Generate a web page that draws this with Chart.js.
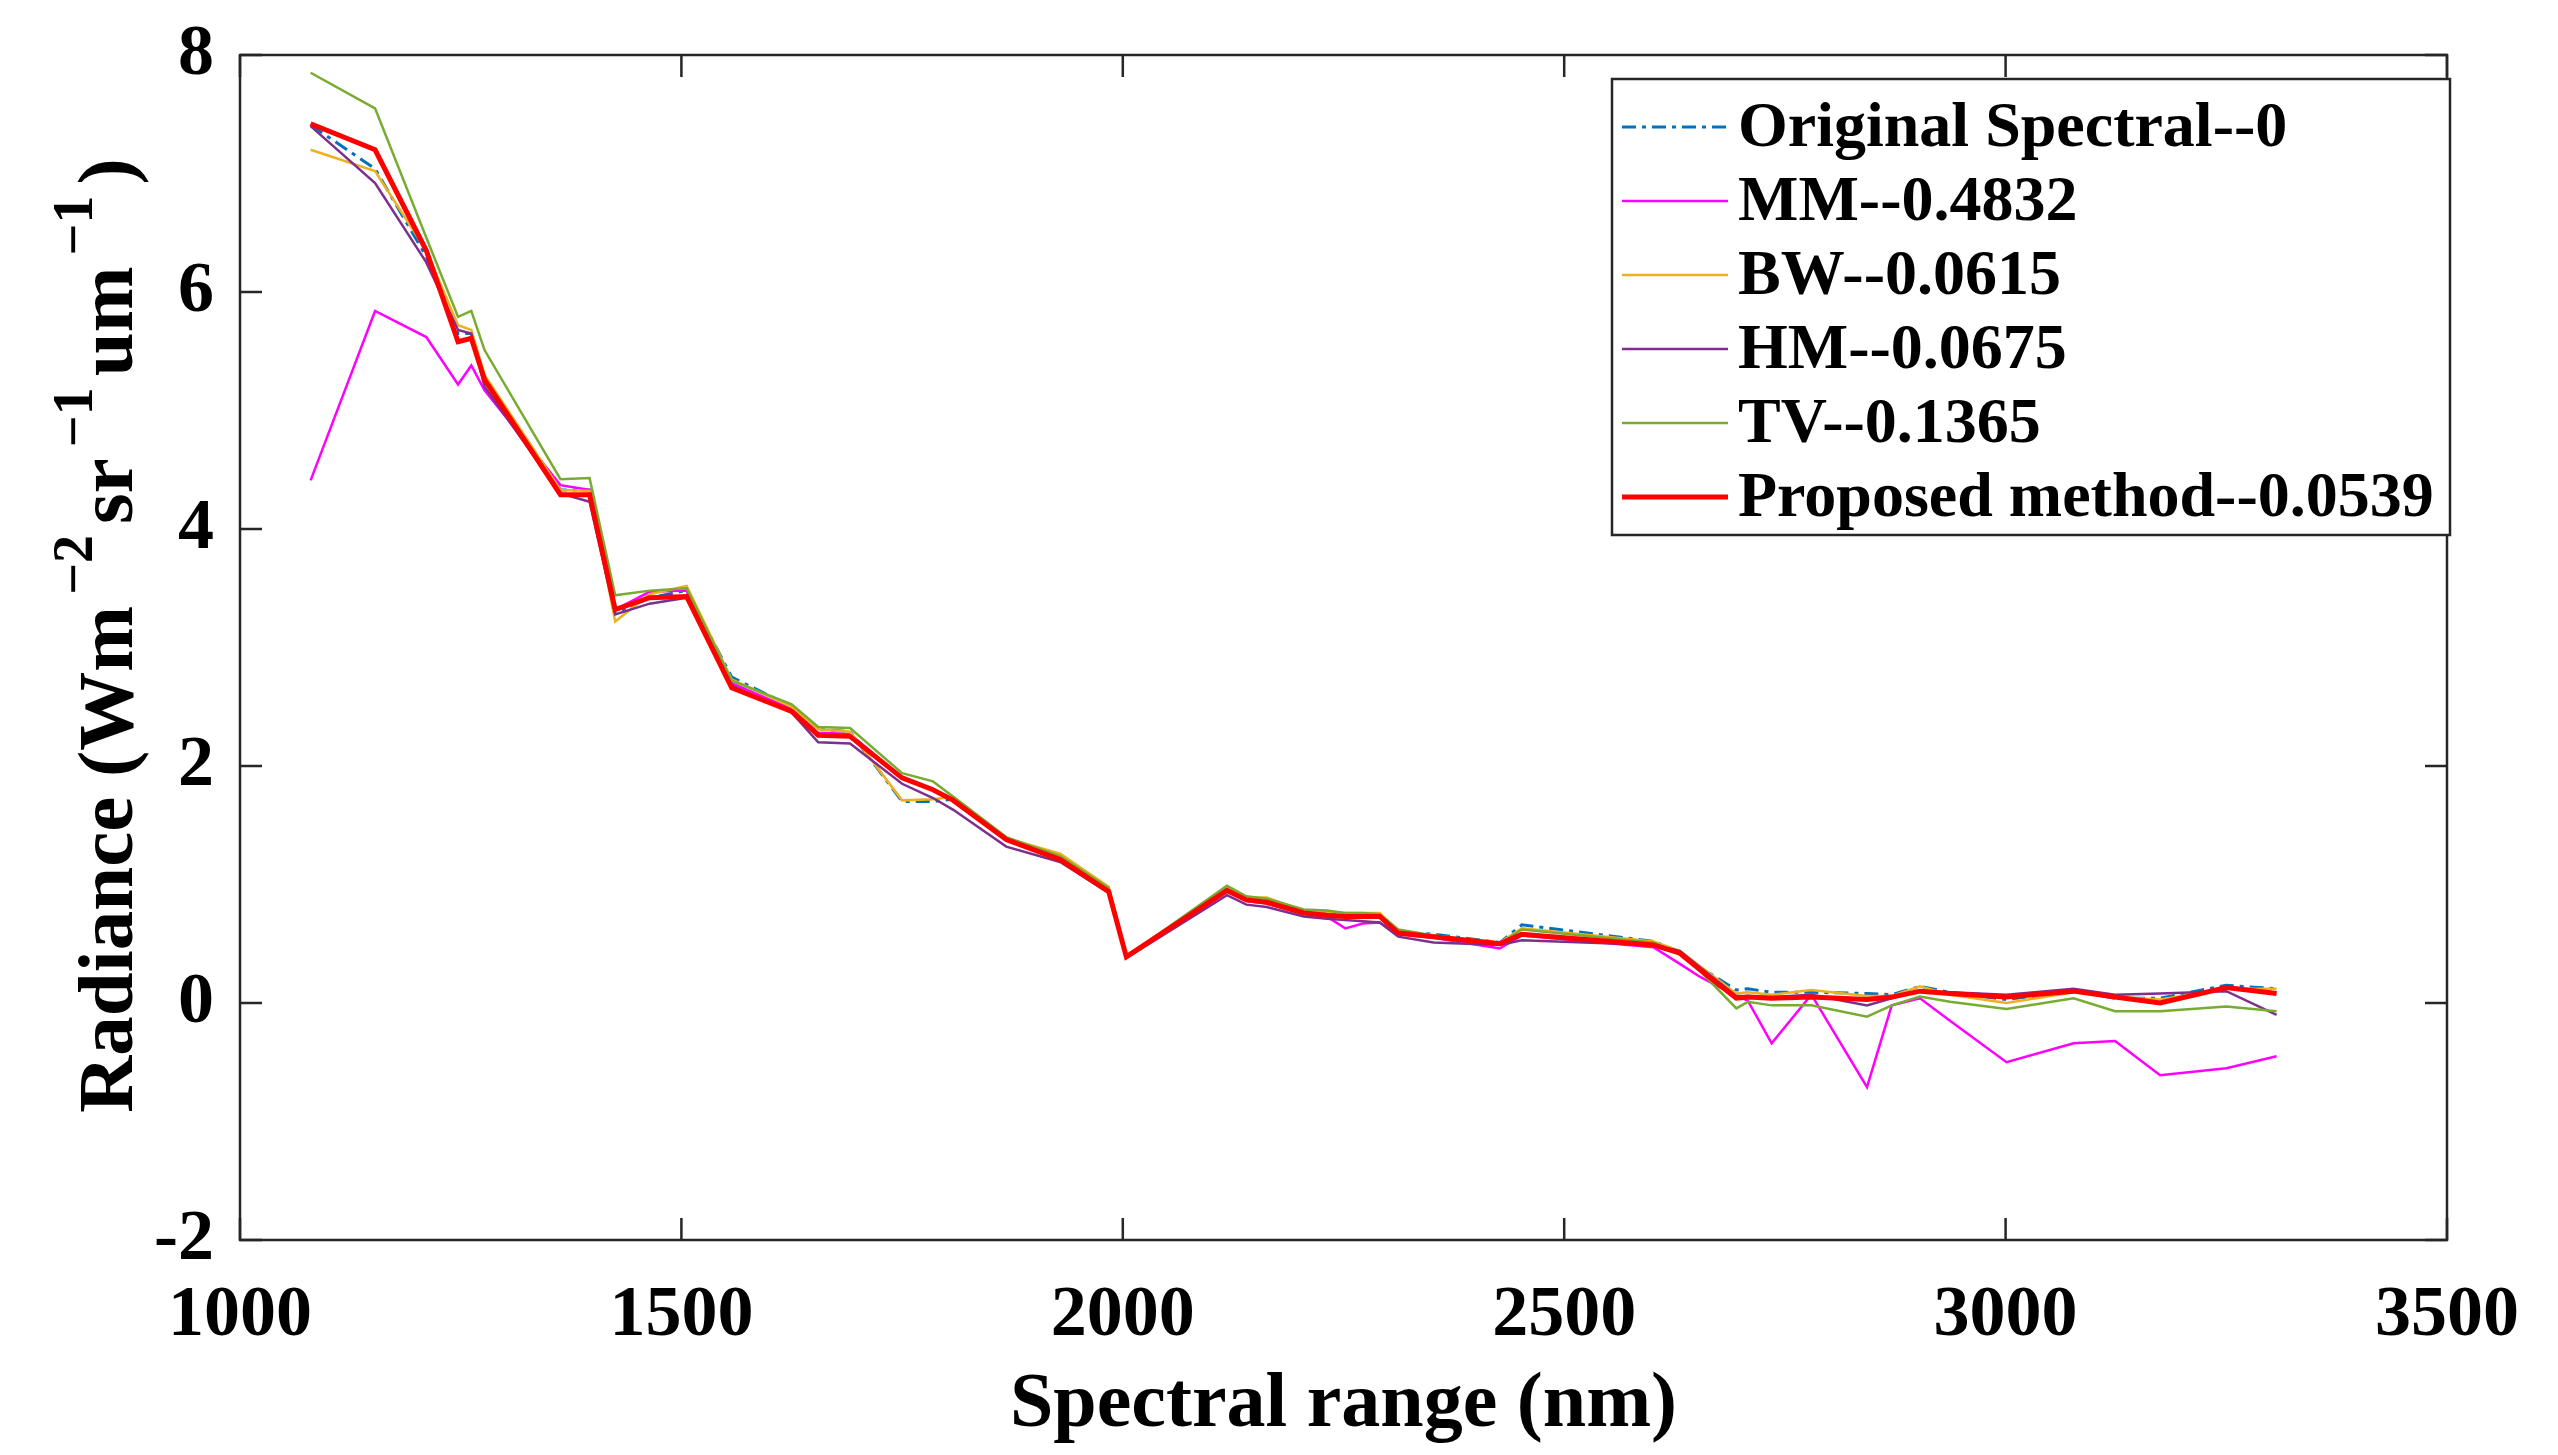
<!DOCTYPE html>
<html>
<head>
<meta charset="utf-8">
<script src="https://cdn.jsdelivr.net/npm/chart.js@4.4.1/dist/chart.umd.min.js"></script>
<style>
  html, body { margin: 0; padding: 0; background: #fff; }
  #wrap { width: 2558px; height: 1455px; position: relative; }
</style>
</head>
<body>
<div id="wrap"><canvas id="specChart"></canvas></div>
<script>
// Datos
const wavelengths = [1080, 1153, 1211, 1247, 1262, 1277, 1363, 1396, 1425, 1464, 1506, 1557, 1625, 1655, 1691,
    1750, 1785, 1808, 1868, 1929, 1984, 2004, 2118, 2140, 2163, 2205, 2231, 2252, 2272, 2291, 2312, 2352,
    2427, 2452, 2601, 2631, 2654, 2695, 2708, 2735, 2780, 2843, 2871, 2903, 2937, 3001, 3077, 3124, 3175, 3250, 3307];

const original = [7.41, 7.04, 6.30, 5.65, 5.65, 5.28, 4.33, 4.33, 3.29, 3.42, 3.48, 2.75, 2.50, 2.31, 2.29,
    1.70, 1.70, 1.72, 1.38, 1.23, 0.96, 0.39, 0.96, 0.88, 0.87, 0.77, 0.76, 0.75, 0.75, 0.74, 0.60, 0.58,
    0.51, 0.66, 0.52, 0.43, 0.30, 0.11, 0.12, 0.09, 0.09, 0.08, 0.07, 0.14, 0.09, 0.03, 0.10, 0.04, 0.04, 0.15, 0.12];

const mm = [4.41, 5.84, 5.62, 5.22, 5.38, 5.17, 4.37, 4.33, 3.32, 3.47, 3.48, 2.70, 2.48, 2.28, 2.27,
    1.90, 1.80, 1.72, 1.37, 1.21, 0.95, 0.39, 0.94, 0.86, 0.84, 0.75, 0.73, 0.63, 0.67, 0.68, 0.58, 0.55,
    0.46, 0.57, 0.47, 0.33, 0.22, 0.06, 0.02, -0.34, 0.07, -0.71, -0.02, 0.04, -0.15, -0.50, -0.34, -0.32, -0.61, -0.55, -0.45];

const bw = [7.20, 7.02, 6.35, 5.72, 5.68, 5.30, 4.33, 4.32, 3.22, 3.45, 3.52, 2.73, 2.50, 2.31, 2.29,
    1.71, 1.72, 1.74, 1.39, 1.26, 0.98, 0.40, 0.97, 0.89, 0.89, 0.78, 0.77, 0.76, 0.76, 0.76, 0.61, 0.57,
    0.51, 0.63, 0.52, 0.44, 0.31, 0.08, 0.09, 0.07, 0.11, 0.06, 0.06, 0.14, 0.07, 0.00, 0.09, 0.05, 0.03, 0.12, 0.12];

const hm = [7.40, 6.92, 6.25, 5.68, 5.65, 5.20, 4.30, 4.23, 3.28, 3.37, 3.42, 2.68, 2.45, 2.20, 2.19,
    1.85, 1.73, 1.63, 1.32, 1.19, 0.93, 0.38, 0.91, 0.83, 0.81, 0.73, 0.71, 0.70, 0.69, 0.68, 0.56, 0.51,
    0.49, 0.53, 0.49, 0.44, 0.30, 0.06, 0.06, 0.05, 0.07, -0.02, 0.04, 0.10, 0.09, 0.07, 0.12, 0.07, 0.08, 0.10, -0.10];

const tv = [7.85, 7.55, 6.46, 5.79, 5.84, 5.51, 4.42, 4.43, 3.44, 3.48, 3.50, 2.72, 2.52, 2.33, 2.32,
    1.94, 1.87, 1.74, 1.40, 1.24, 0.97, 0.39, 0.99, 0.90, 0.88, 0.79, 0.78, 0.76, 0.76, 0.75, 0.62, 0.57,
    0.50, 0.62, 0.51, 0.42, 0.27, -0.045, 0.01, -0.02, -0.02, -0.115, -0.02, 0.055, 0.01, -0.05, 0.04, -0.07, -0.07, -0.03, -0.07];

const proposed = [7.42, 7.20, 6.35, 5.58, 5.61, 5.26, 4.29, 4.29, 3.32, 3.42, 3.43, 2.66, 2.46, 2.26, 2.25,
    1.90, 1.80, 1.71, 1.38, 1.21, 0.94, 0.39, 0.95, 0.87, 0.85, 0.76, 0.74, 0.73, 0.73, 0.73, 0.59, 0.56,
    0.50, 0.58, 0.49, 0.42, 0.28, 0.04, 0.05, 0.04, 0.05, 0.03, 0.05, 0.10, 0.08, 0.05, 0.10, 0.05, 0.00, 0.13, 0.08];

const seriesNames = ['Original Spectral--0', 'MM--0.4832', 'BW--0.0615', 'HM--0.0675', 'TV--0.1365', 'Proposed method--0.0539'];
const xTicks = [1000, 1500, 2000, 2500, 3000, 3500];
const yTicks = [-2, 0, 2, 4, 6, 8];

const SERIF = "'Liberation Serif', 'Times New Roman', serif";

function pts(arr) {
    return wavelengths.map((w, i) => ({ x: w, y: arr[i] }));
}

// ==========================
//   CAJA + TICKS HACIA DENTRO
// ==========================
const framePlugin = {
    id: 'frame',
    afterDatasetsDraw(chart) {
        const { ctx, chartArea: a, scales } = chart;
        const tl = 22;
        ctx.save();
        ctx.strokeStyle = '#262626';
        ctx.lineWidth = 2.5;
        ctx.strokeRect(a.left, a.top, a.right - a.left, a.bottom - a.top);
        ctx.beginPath();
        xTicks.forEach(v => {
            const px = scales.x.getPixelForValue(v);
            ctx.moveTo(px, a.bottom); ctx.lineTo(px, a.bottom - tl);
            ctx.moveTo(px, a.top); ctx.lineTo(px, a.top + tl);
        });
        yTicks.forEach(v => {
            const py = scales.y.getPixelForValue(v);
            ctx.moveTo(a.left, py); ctx.lineTo(a.left + tl, py);
            ctx.moveTo(a.right, py); ctx.lineTo(a.right - tl, py);
        });
        ctx.stroke();
        ctx.restore();
    },
    afterDraw(chart) {
        const ctx = chart.ctx;
        const a = chart.chartArea;

        // Titulo eje Y con superindices
        const parts = [
            ['Radiance (Wm', false], ['\u22122', true], ['sr', false], ['\u22121', true],
            ['um', false], ['\u22121', true], [')', false]
        ];
        const mainFont = 'bold 79px ' + SERIF;
        const supFont = 'bold 56px ' + SERIF;
        const gap = 22;
        ctx.save();
        let total = 0;
        parts.forEach(p => {
            ctx.font = p[1] ? supFont : mainFont;
            total += ctx.measureText(p[0]).width + (p[1] ? gap : 0);
        });
        ctx.translate(132, (a.top + a.bottom) / 2 - 12);
        ctx.rotate(-Math.PI / 2);
        ctx.fillStyle = '#000';
        ctx.textBaseline = 'alphabetic';
        let cx = -total / 2;
        parts.forEach(p => {
            ctx.font = p[1] ? supFont : mainFont;
            ctx.fillText(p[0], cx + (p[1] ? gap / 2 : 0), p[1] ? -40 : 0);
            cx += ctx.measureText(p[0]).width + (p[1] ? gap : 0);
        });
        ctx.restore();

        // Leyenda
        const bx = 1612, by = 79, bw2 = a.right - bx + 3, bh = 456;
        ctx.save();
        ctx.fillStyle = '#fff';
        ctx.fillRect(bx, by, bw2, bh);
        ctx.strokeStyle = '#262626';
        ctx.lineWidth = 2.5;
        ctx.strokeRect(bx, by, bw2, bh);
        ctx.font = 'bold 64px ' + SERIF;
        ctx.textBaseline = 'middle';
        ctx.fillStyle = '#000';
        chart.data.datasets.forEach((ds, i) => {
            const yy = 127 + i * 74;
            ctx.beginPath();
            ctx.strokeStyle = ds.borderColor;
            ctx.lineWidth = ds.borderWidth;
            ctx.setLineDash(ds.borderDash || []);
            ctx.moveTo(1622, yy);
            ctx.lineTo(1728, yy);
            ctx.stroke();
            ctx.setLineDash([]);
            ctx.fillText(ds.label, 1738, yy + 2);
        });
        ctx.restore();
    }
};

const datasets = [
    { label: seriesNames[0], data: pts(original), borderColor: '#0072BD', borderWidth: 3, borderDash: [14, 6, 4, 6], order: 6 },
    { label: seriesNames[1], data: pts(mm), borderColor: '#FF00FF', borderWidth: 2.5, order: 5 },
    { label: seriesNames[2], data: pts(bw), borderColor: '#EDB120', borderWidth: 2.5, order: 4 },
    { label: seriesNames[3], data: pts(hm), borderColor: '#7E2F8E', borderWidth: 2.5, order: 3 },
    { label: seriesNames[4], data: pts(tv), borderColor: '#77AC30', borderWidth: 2.5, order: 2 },
    { label: seriesNames[5], data: pts(proposed), borderColor: '#FF0000', borderWidth: 5, order: 1 }
];

new Chart(document.getElementById('specChart'), {
    type: 'line',
    data: { datasets: datasets },
    options: {
        responsive: true,
        maintainAspectRatio: false,
        devicePixelRatio: 1,
        animation: false,
        layout: { padding: { left: 0, top: 55, right: 111, bottom: 0 } },
        elements: {
            point: { radius: 0 },
            line: { tension: 0, fill: false }
        },
        plugins: {
            legend: { display: false },
            tooltip: { enabled: false }
        },
        scales: {
            x: {
                type: 'linear',
                min: 1000,
                max: 3500,
                afterBuildTicks: s => { s.ticks = xTicks.map(v => ({ value: v })); },
                afterFit: s => { s.height = 215; s.paddingLeft = 0; s.paddingRight = 0; },
                grid: { display: false, drawTicks: false },
                border: { display: false },
                ticks: {
                    padding: 33,
                    color: '#000',
                    font: { family: SERIF, size: 72, weight: 'bold' },
                    callback: v => String(v),
                    maxRotation: 0
                },
                title: {
                    display: true,
                    text: 'Spectral range (nm)',
                    color: '#000',
                    font: { family: SERIF, size: 78, weight: 'bold' },
                    padding: { top: 0, bottom: 2 }
                }
            },
            y: {
                type: 'linear',
                min: -2,
                max: 8,
                afterBuildTicks: s => { s.ticks = yTicks.map(v => ({ value: v })); },
                afterFit: s => { s.width = 240; s.paddingTop = 0; s.paddingBottom = 0; },
                grid: { display: false, drawTicks: false },
                border: { display: false },
                ticks: {
                    padding: 26,
                    color: '#000',
                    font: { family: SERIF, size: 72, weight: 'bold' },
                    callback: v => String(v)
                }
            }
        }
    },
    plugins: [framePlugin]
});
</script>
</body>
</html>
